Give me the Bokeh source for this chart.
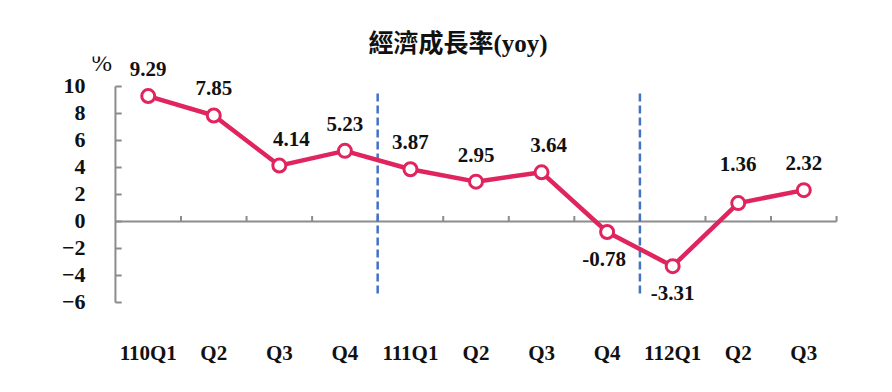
from bokeh.plotting import figure
from bokeh.models import Range1d, FixedTicker, ColumnDataSource
from bokeh.core.properties import value
from bokeh.embed import file_html
from bokeh.resources import INLINE

# ---- data ----
quarters = ["110Q1", "Q2", "Q3", "Q4", "111Q1", "Q2", "Q3", "Q4", "112Q1", "Q2", "Q3"]
growth = [9.29, 7.85, 4.14, 5.23, 3.87, 2.95, 3.64, -0.78, -3.31, 1.36, 2.32]
y_ticks = [-6, -4, -2, 0, 2, 4, 6, 8, 10]
title_text = "經濟成長率(yoy)"
unit_text = "%"

# ---- style ----
LINE_COLOR = "#E0245E"
AXIS_COLOR = "#8C8C8C"
DASH_COLOR = "#4472C4"
TEXT_COLOR = "#111111"
SERIF = "Liberation Serif"
# label nudges (pixels) by point index: (dx, extra dy)
NUDGE = {2: (12, 0), 6: (7, 0), 7: (-3, 0), 9: (0, 12)}

n = len(quarters)
xs = [i + 0.5 for i in range(n)]

p = figure(width=876, height=376, output_backend="svg", toolbar_location=None,
           x_range=Range1d(-0.35, n + 0.06), y_range=Range1d(-6.15, 12.22),
           min_border_left=92, min_border_right=36, min_border_top=56, min_border_bottom=72)
p.outline_line_color = None
p.background_fill_color = "white"
p.border_fill_color = "white"
p.xgrid.visible = False
p.ygrid.visible = False

# title
p.title.text = title_text
p.title.align = "left"
p.title.offset = 276
p.title.standoff = 0
p.title.text_font = "Liberation Serif, Noto Sans CJK TC"
p.title.text_font_size = "25px"
p.title.text_font_style = "bold"
p.title.text_color = TEXT_COLOR

# y axis: labels from axis, line & ticks drawn as marks
ya = p.yaxis[0]
ya.ticker = FixedTicker(ticks=y_ticks)
ya.axis_line_color = None
ya.major_tick_line_color = None
ya.minor_tick_line_color = None
ya.major_label_text_font = SERIF
ya.major_label_text_font_style = "bold"
ya.major_label_text_font_size = "22px"
ya.major_label_text_color = TEXT_COLOR
ya.major_label_standoff = 1

p.segment(x0=[0], y0=[y_ticks[0]], x1=[0], y1=[y_ticks[-1]],
          line_color=AXIS_COLOR, line_width=2)
p.segment(x0=[0] * len(y_ticks), y0=y_ticks, x1=[0.095] * len(y_ticks), y1=y_ticks,
          line_color=AXIS_COLOR, line_width=2)

# x axis (labels only, far below)
xa = p.xaxis[0]
xa.ticker = FixedTicker(ticks=xs)
xa.major_label_overrides = {x: q for x, q in zip(xs, quarters)}
xa.axis_line_color = None
xa.major_tick_line_color = None
xa.minor_tick_line_color = None
xa.major_label_text_font = SERIF
xa.major_label_text_font_style = "bold"
xa.major_label_text_font_size = "21px"
xa.major_label_text_color = TEXT_COLOR
xa.major_label_standoff = 30

# zero line with boundary ticks
p.segment(x0=[0], y0=[0], x1=[n], y1=[0], line_color=AXIS_COLOR, line_width=2)
bounds = list(range(1, n + 1))
p.segment(x0=bounds, y0=[0] * len(bounds), x1=bounds, y1=[0.4] * len(bounds),
          line_color=AXIS_COLOR, line_width=2)

# year separators (dashed)
sep = [i for i, q in enumerate(quarters) if len(q) > 2 and i > 0]
p.segment(x0=sep, y0=[-5.33] * len(sep), x1=sep, y1=[9.7] * len(sep),
          line_color=DASH_COLOR, line_width=2.5, line_dash="8 4")

# line + markers
src = ColumnDataSource(dict(
    x=xs, y=growth,
    lbl=[f"{v:.2f}" for v in growth],
    xo=[NUDGE.get(i, (0, 0))[0] for i in range(n)],
    yo=[-(27 + NUDGE.get(i, (0, 0))[1]) if v >= 0 else 27 for i, v in enumerate(growth)],
))
p.line("x", "y", source=src, line_color=LINE_COLOR, line_width=4.5)
p.scatter("x", "y", source=src, size=13, fill_color="white",
          line_color=LINE_COLOR, line_width=3)

p.text("x", "y", text="lbl", source=src, x_offset="xo", y_offset="yo",
       text_align="center", text_baseline="middle",
       text_font=value(SERIF), text_font_style="bold", text_font_size="21px",
       text_color=TEXT_COLOR)

# unit label
p.text(x=[-0.21], y=[11.75], text=[unit_text], text_align="center",
       text_baseline="middle", text_font=value(SERIF), text_font_size="25px",
       text_color=TEXT_COLOR)

open("out.html", "w").write(file_html(p, INLINE))
